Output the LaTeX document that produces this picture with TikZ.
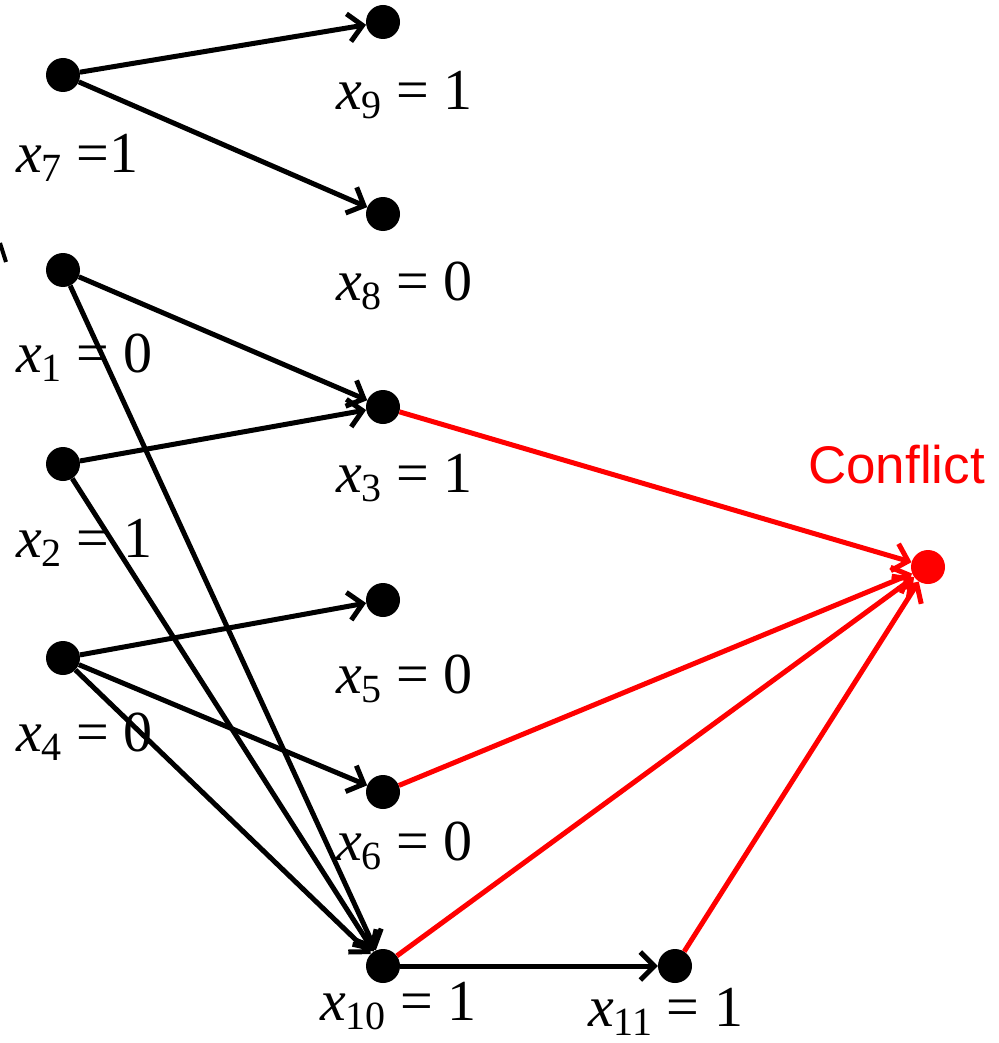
\documentclass[tikz,border=0pt]{standalone}
\usepackage{fontspec}
\setmainfont{Liberation Serif}
\newfontfamily\sansfnt{Liberation Sans}
\usetikzlibrary{arrows.meta}
\newcommand\xv[3]{\textit{x}\raisebox{-9pt}{\fontsize{40}{40}\selectfont #1}#2#3}
\begin{document}
\begin{tikzpicture}[x=1pt,y=-1pt,
  dot/.style={circle,fill=black,inner sep=0pt,minimum size=34pt},
  rdot/.style={dot,fill=red},
  edge/.style={line width=5pt,-{Straight Barb[length=14pt,width=28pt]}},
  redge/.style={edge,draw=red},
  plain/.style={line width=4pt},
  lab/.style={font=\fontsize{58}{58}\selectfont,inner sep=0pt,anchor=base west},
  clab/.style={font=\sansfnt\fontsize{53}{53}\selectfont,text=red,inner sep=0pt,anchor=base west}]
\useasboundingbox (0,0) rectangle (998,1043);
% nodes
\node[dot] (x7) at (63,75) {};
\node[dot] (x9) at (383,22) {};
\node[dot] (x8) at (383,214) {};
\node[dot] (x1) at (63,270) {};
\node[dot] (x3) at (383,407) {};
\node[dot] (x2) at (63,464) {};
\node[dot] (x5) at (383,600) {};
\node[dot] (x4) at (63,658) {};
\node[dot] (x6) at (383,792) {};
\node[dot] (x10) at (383,966) {};
\node[dot] (x11) at (675,966) {};
\node[rdot] (c) at (928,567) {};
% labels
\node[lab] (l9) at (336,110) {\xv{9}{ = }{1}};
\node[lab] (l7) at (16,173) {\xv{7}{ =}{1}};
\node[lab] (l8) at (336,300) {\xv{8}{ = }{0}};
\node[lab] (l1) at (16,372) {\xv{1}{ = }{0}};
\node[lab] (l3) at (336,492) {\xv{3}{ = }{1}};
\node[lab] (l2) at (16,557) {\xv{2}{ = }{1}};
\node[lab] (l5) at (336,693) {\xv{5}{ = }{0}};
\node[lab] (l4) at (16,751) {\xv{4}{ = }{0}};
\node[lab] (l6) at (336,860) {\xv{6}{ = }{0}};
\node[lab] (l10) at (320,1020) {\xv{10}{ = }{1}};
\node[lab] (l11) at (588,1026) {\xv{11}{ = }{1}};
\node[clab] (lc) at (808,483) {Conflict};
% stray fragment at left edge
\coordinate (s1) at (0,243);
\coordinate (s2) at (6,262);
\draw[plain] (s1) -- (s2);
% black edges
\draw[edge] (x7) -- (x9);
\draw[edge] (x7) -- (x8);
\draw[edge] (x1) -- (x3);
\draw[edge] (x1) -- (x10);
\draw[edge] (x2) -- (x3);
\draw[edge] (x2) -- (x10);
\draw[edge] (x4) -- (x5);
\draw[edge] (x4) -- (x6);
\draw[edge] (x4) -- (x10);
\draw[edge] (x10) -- (x11);
% red edges
\draw[redge] (x3) -- (c);
\draw[redge] (x6) -- (c);
\draw[redge] (x10) -- (c);
\draw[redge] (x11) -- (c);
\end{tikzpicture}
\end{document}
